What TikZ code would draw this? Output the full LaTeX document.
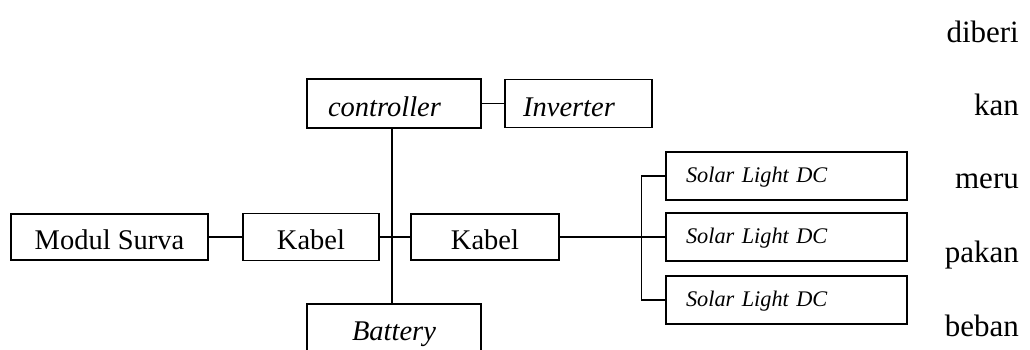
\documentclass[tikz,border=0pt]{standalone}
\usepackage{fontspec}
\setmainfont{Liberation Serif}
\begin{document}
\begin{tikzpicture}[x=1pt,y=-1pt,
  box/.style={draw, line width=1.5pt, inner sep=0pt, text height=25pt, text depth=0pt, font=\fontsize{28.5}{34}\selectfont},
  itbox/.style={box, font=\fontsize{28.5}{34}\selectfont\itshape},
  solarbox/.style={draw, line width=1.5pt, inner ysep=0pt, inner xsep=20pt, minimum height=48pt, text width=201pt, text height=16pt, text depth=2.8pt, align=left, font=\fontsize{22.3}{27}\selectfont\itshape},
  link/.style={line width=1.5pt},
  sidetext/.style={anchor=base east, inner sep=0pt, font=\fontsize{31}{37}\selectfont}]
\useasboundingbox (0,0) rectangle (1030,349);
\clip (0,0) rectangle (1030,349);
\node[itbox, minimum width=174pt, minimum height=49pt] (controller) at (394,103.5) {controller\hspace*{19pt}};
\node[itbox, minimum width=147pt, minimum height=48pt] (inverter) at (578.5,103.5) {Inverter\hspace*{19pt}};
\node[box, minimum width=197pt, minimum height=46pt] (modul) at (109.5,237) {Modul Surva};
\node[box, minimum width=136pt, minimum height=47pt] (kabel1) at (311,237) {Kabel};
\node[box, minimum width=148pt, minimum height=46pt] (kabel2) at (485,237) {Kabel};
\node[itbox, anchor=north, minimum width=174pt, text height=36pt, text depth=40pt, inner ysep=1pt] (battery) at (394,303) {Battery};
\node[solarbox] (s1) at (786.5,176) {Solar Light DC};
\node[solarbox] (s2) at (786.5,237) {Solar Light DC};
\node[solarbox] (s3) at (786.5,300) {Solar Light DC};
\coordinate (j) at (392,237);
\draw[link] (controller.east) -- (inverter.west);
\draw[link] (modul.east) -- (kabel1.west);
\draw[link] (kabel1.east) -- (kabel2.west);
\draw[link] (controller.south -| j) -- (battery.north -| j);
\draw[link] (kabel2.east) -- (s2.west);
\draw[link] (s1.west) -- ++(-24,0) |- (s3.west);
\node[sidetext] (t1) at (1019,42) {diberi};
\node[sidetext] (t2) at (1019,115) {kan};
\node[sidetext] (t3) at (1019,188) {meru};
\node[sidetext] (t4) at (1019,262) {pakan};
\node[sidetext] (t5) at (1019,336) {beban};
\end{tikzpicture}
\end{document}
